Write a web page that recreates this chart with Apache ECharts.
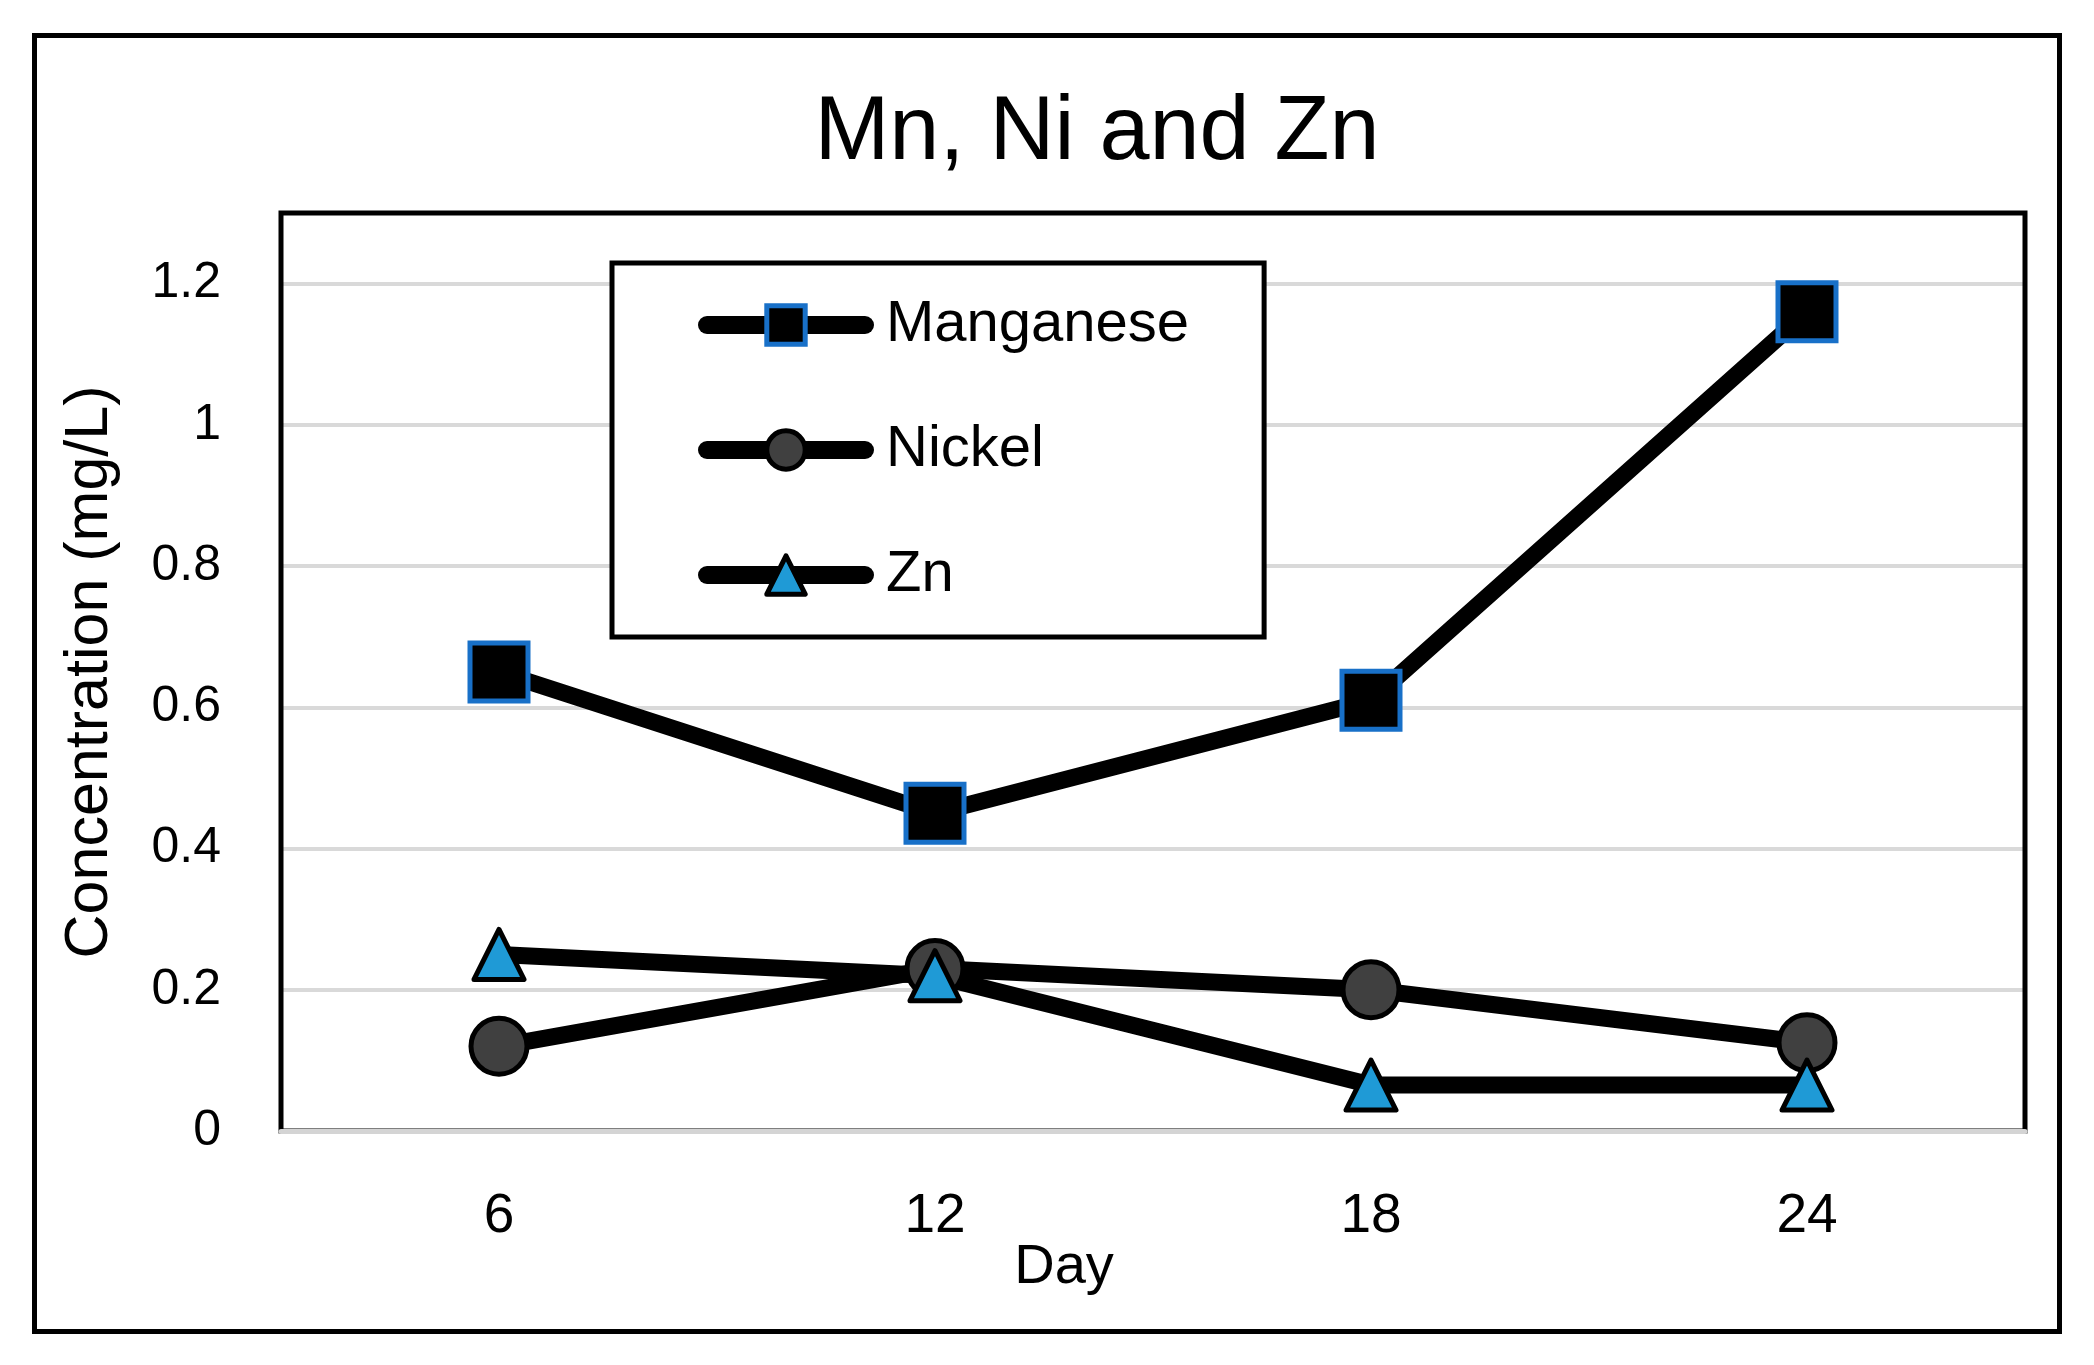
<!DOCTYPE html>
<html>
<head>
<meta charset="utf-8">
<title>Mn, Ni and Zn</title>
<script src="https://cdn.jsdelivr.net/npm/echarts@6/dist/echarts.min.js"></script>
<style>
  html, body { margin: 0; padding: 0; background: #fff; }
  #myChart { width: 2094px; height: 1365px; }
</style>
</head>
<body>
<div id="myChart"></div>
<script>
// data
const days = ['6', '12', '18', '24'];
const manganese = [0.65, 0.45, 0.61, 1.16];
const nickel = [0.12, 0.23, 0.2, 0.125];
const zinc = [0.25, 0.22, 0.065, 0.065];
const yTicks = [0, 0.2, 0.4, 0.6, 0.8, 1, 1.2];

const FONT = 'Liberation Sans';

let myChart = echarts.init(document.getElementById('myChart'));

let option = {
  backgroundColor: '#fff',
  textStyle: { fontFamily: FONT, color: '#000' },
  title: {
    text: 'Mn, Ni and Zn',
    left: 1092,
    top: 84,
    textAlign: 'center',
    textStyle: { fontFamily: FONT, fontSize: 90, fontWeight: 'normal', color: '#000' }
  },
  graphic: [
    {
      // outer chart border
      type: 'rect',
      left: 32,
      top: 33,
      shape: { width: 2025, height: 1296 },
      style: { fill: 'none', stroke: '#000', lineWidth: 5 },
      silent: true
    }
  ],
  legend: {
    orient: 'vertical',
    left: 612,
    top: 263,
    padding: [33, 75, 33, 86],
    backgroundColor: '#fff',
    borderColor: '#000',
    borderWidth: 5,
    itemWidth: 158,
    itemHeight: 48,
    itemGap: 67,
    lineStyle: { width: 18, cap: 'round' },
    itemStyle: { borderWidth: 5 },
    textStyle: { fontFamily: FONT, fontSize: 58, color: '#000', padding: [0, 0, 0, 16] },
    data: ['Manganese', 'Nickel', 'Zn']
  },
  grid: {
    left: 281,
    right: 69,
    top: 213,
    bottom: 234,
    show: true,
    z: 1,
    borderColor: '#000',
    borderWidth: 5,
    backgroundColor: 'transparent'
  },
  xAxis: {
    type: 'category',
    data: days,
    boundaryGap: true,
    z: 3,
    name: 'Day',
    nameLocation: 'middle',
    nameGap: 109,
    nameMoveOverlap: false,
    nameTextStyle: { fontFamily: FONT, fontSize: 56, color: '#000', padding: [0, 178, 0, 0] },
    axisLine: { lineStyle: { color: '#d4d4d4', width: 5 } },
    axisTick: { show: false },
    axisLabel: { fontFamily: FONT, fontSize: 55, color: '#000', margin: 58 }
  },
  yAxis: {
    type: 'value',
    min: 0,
    max: 1.3,
    interval: 0.2,
    name: 'Concentration (mg/L)',
    nameLocation: 'middle',
    nameGap: 160,
    nameMoveOverlap: false,
    nameTextStyle: { fontFamily: FONT, fontSize: 61, color: '#000' },
    axisLine: { show: false },
    axisTick: { show: false },
    axisLabel: {
      fontFamily: FONT,
      fontSize: 50,
      color: '#000',
      margin: 60,
      formatter: function (v) {
        return yTicks.some(t => Math.abs(t - v) < 1e-6) ? String(+v.toFixed(1)) : '';
      }
    },
    splitLine: { lineStyle: { color: '#d9d9d9', width: 4 } }
  },
  series: [
    {
      name: 'Manganese',
      type: 'line',
      data: manganese,
      symbol: 'rect',
      symbolSize: 58,
      lineStyle: { color: '#000', width: 17 },
      itemStyle: { color: '#000', borderColor: '#1870c8', borderWidth: 5 }
    },
    {
      name: 'Nickel',
      type: 'line',
      data: nickel,
      symbol: 'circle',
      symbolSize: 56,
      lineStyle: { color: '#000', width: 17 },
      itemStyle: { color: '#404040', borderColor: '#000', borderWidth: 5 }
    },
    {
      name: 'Zn',
      type: 'line',
      data: zinc,
      symbol: 'triangle',
      symbolSize: 50,
      lineStyle: { color: '#000', width: 17 },
      itemStyle: { color: '#1f9ad6', borderColor: '#000', borderWidth: 5, borderJoin: 'round' }
    }
  ]
};

myChart.setOption(option);
</script>
</body>
</html>
